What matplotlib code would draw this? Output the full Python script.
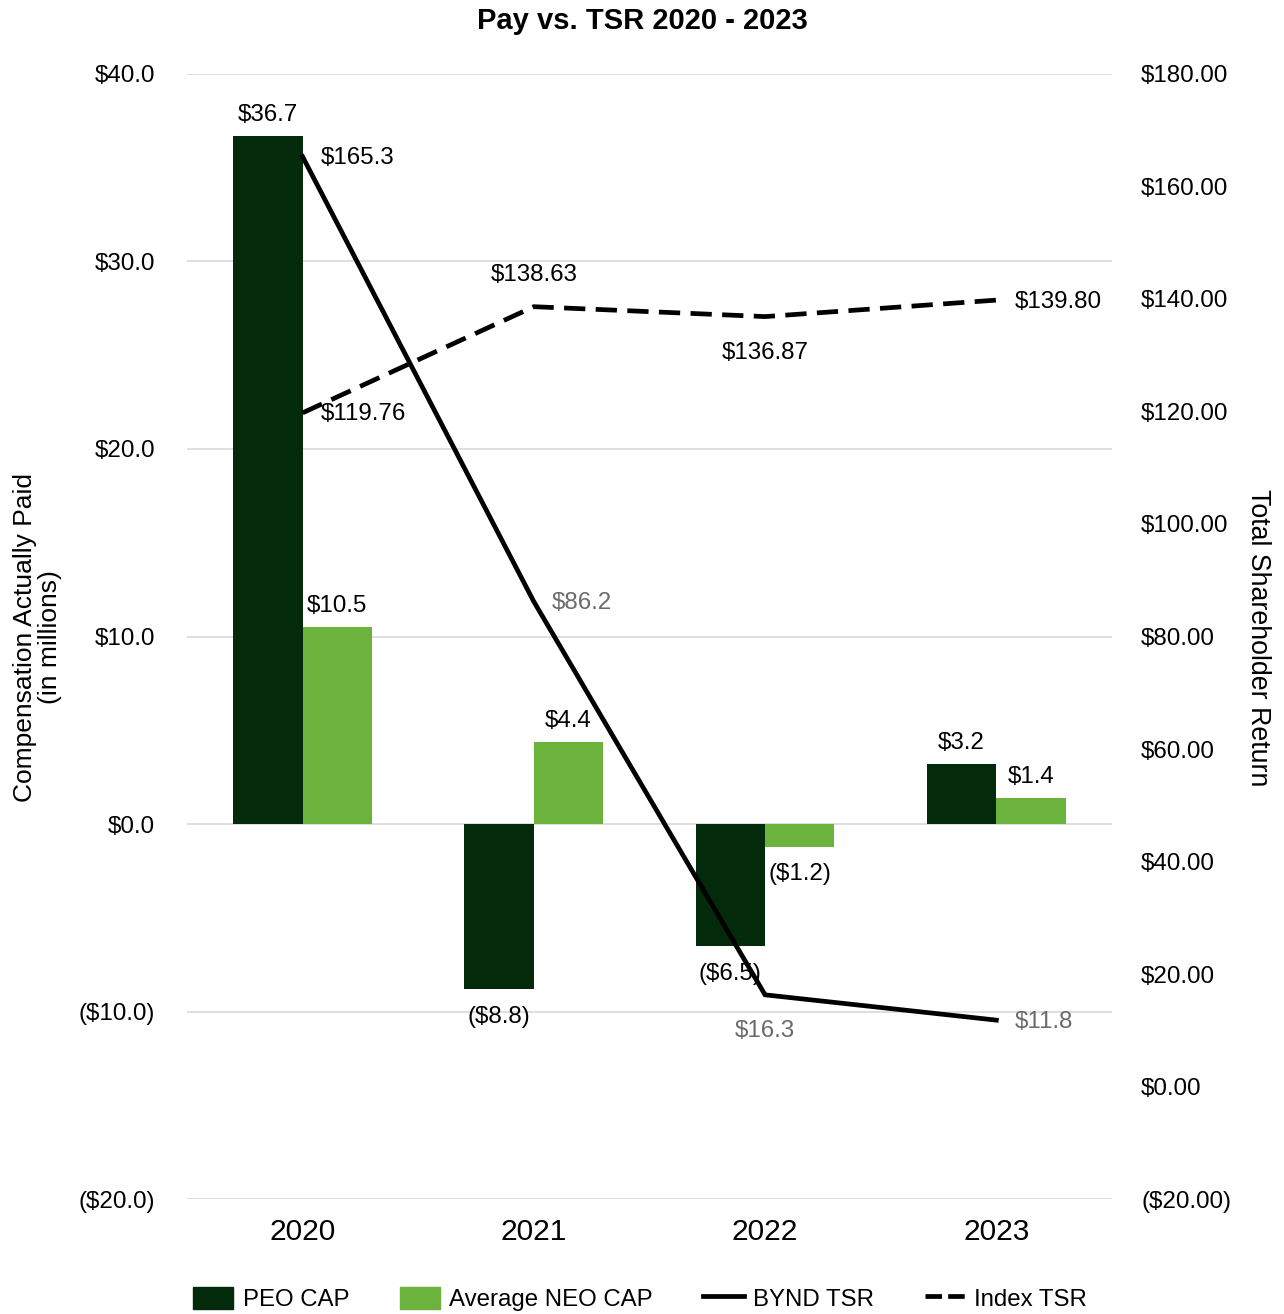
import numpy as np
import matplotlib.pyplot as plt
from matplotlib.patches import Patch
from matplotlib.lines import Line2D

plt.rcParams['font.family'] = ['Liberation Sans', 'DejaVu Sans']

# === data ===
years = ['2020', '2021', '2022', '2023']
peo_cap = [36.7, -8.8, -6.5, 3.2]
neo_cap = [10.5, 4.4, -1.2, 1.4]
bynd_tsr = [165.3, 86.2, 16.3, 11.8]
index_tsr = [119.76, 138.63, 136.87, 139.80]

left_ticks = [40, 30, 20, 10, 0, -10, -20]
right_ticks = [180, 160, 140, 120, 100, 80, 60, 40, 20, 0, -20]

dark_green = '#022a0b'
light_green = '#6cb33e'
gray_text = '#6b6b6b'

FS = 17.4  # data labels / tick labels


def money(v, nd):
    s = f"${abs(v):.{nd}f}"
    return f"({s})" if v < 0 else s


fig = plt.figure(figsize=(12.84, 13.14), dpi=100)
ax = fig.add_axes([0.1456, 0.0875, 0.7204, 0.8562])
ax2 = ax.twinx()

x = np.arange(len(years))
w = 0.30

# bars on the left axis
ax.bar(x - w / 2, peo_cap, w, color=dark_green, zorder=2)
ax.bar(x + w / 2, neo_cap, w, color=light_green, zorder=2)

for xi, v in zip(x - w / 2, peo_cap):
    ax.annotate(money(v, 1), (xi, v), xytext=(0, 15 if v > 0 else -20),
                textcoords='offset points', ha='center', va='center', fontsize=FS)
for xi, v in zip(x + w / 2, neo_cap):
    ax.annotate(money(v, 1), (xi, v), xytext=(0, 15 if v > 0 else -20),
                textcoords='offset points', ha='center', va='center', fontsize=FS)

ax.set_ylim(-20, 40)
ax.set_xlim(-0.5, 3.5)
ax.set_yticks(left_ticks)
ax.set_yticklabels([money(t, 1) for t in left_ticks], fontsize=FS)
ax.set_xticks(x)
ax.set_xticklabels(years, fontsize=21.5)
ax.tick_params(axis='y', length=0, pad=23)
ax.tick_params(axis='x', length=0, pad=14)
ax.grid(axis='y', color='#dcdcdc', linewidth=1.3, zorder=0)
ax.set_axisbelow(True)
for sp in ax.spines.values():
    sp.set_visible(False)
for sp in ax2.spines.values():
    sp.set_visible(False)

# TSR lines on the right axis
ax2.plot(x, bynd_tsr, color='black', linewidth=3.4, solid_joinstyle='miter', zorder=3)
ax2.plot(x, index_tsr, color='black', linewidth=3.4, dashes=(4.5, 2.2), zorder=3)
ax2.set_ylim(-20, 180)
ax2.set_yticks(right_ticks)
ax2.set_yticklabels([money(t, 2) for t in right_ticks], fontsize=FS)
ax2.tick_params(axis='y', length=0, pad=21)

# BYND TSR labels
bynd_off = [(13, -1, 'left', 'black'), (13, -1, 'left', gray_text),
            (0, -26, 'center', gray_text), (13, -1, 'left', gray_text)]
for xi, v, (dx, dy, ha, c) in zip(x, bynd_tsr, bynd_off):
    ax2.annotate(f"${v:.1f}", (xi, v), xytext=(dx, dy), textcoords='offset points',
                 ha=ha, va='center', fontsize=FS, color=c)

# Index TSR labels
index_off = [(13, -1, 'left'), (0, 23, 'center'), (0, -26, 'center'), (13, -1, 'left')]
for xi, v, (dx, dy, ha) in zip(x, index_tsr, index_off):
    ax2.annotate(f"${v:.2f}", (xi, v), xytext=(dx, dy), textcoords='offset points',
                 ha=ha, va='center', fontsize=FS, color='black')

fig.text(0.5, 0.984, 'Pay vs. TSR 2020 - 2023', ha='center', va='center',
         fontsize=21, fontweight='bold')
fig.text(0.029, 0.515, 'Compensation Actually Paid\n(in millions)', rotation=90,
         ha='center', va='center', fontsize=19, linespacing=1.05)
fig.text(0.98, 0.515, 'Total Shareholder Return', rotation=270,
         ha='center', va='center', fontsize=19.3)

handles = [Patch(color=dark_green), Patch(color=light_green),
           Line2D([0], [0], color='black', linewidth=3.4),
           Line2D([0], [0], color='black', linewidth=3.4, dashes=(3.5, 1.3))]
labels = ['PEO CAP', 'Average NEO CAP', 'BYND TSR', 'Index TSR']
fig.legend(handles, labels, loc='center', bbox_to_anchor=(0.4985, 0.0115),
           ncol=4, frameon=False, fontsize=17.3, handlelength=1.67, handleheight=1.05,
           handletextpad=0.4, columnspacing=2.1, borderaxespad=0)

fig.savefig('out.png', dpi=100)
